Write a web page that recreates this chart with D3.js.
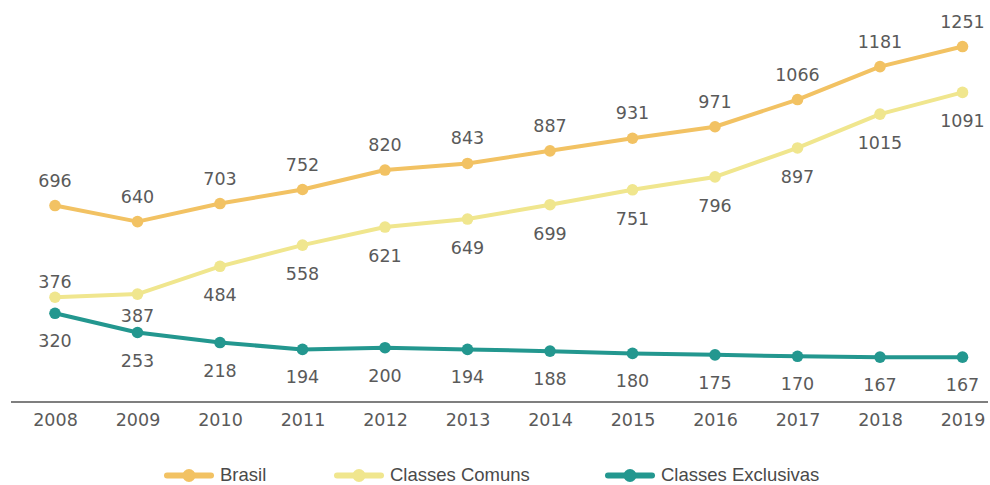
<!DOCTYPE html>
<html><head><meta charset="utf-8">
<script src="https://cdn.jsdelivr.net/npm/d3@7"></script>
<style>
html,body{margin:0;padding:0;background:#fff;}
svg{display:block;}
</style></head>
<body><svg id="chart" width="990" height="485"></svg>
<script>
const years = ["2008","2009","2010","2011","2012","2013","2014","2015","2016","2017","2018","2019"];
const brasil = [696,640,703,752,820,843,887,931,971,1066,1181,1251];
const comuns = [376,387,484,558,621,649,699,751,796,897,1015,1091];
const exclusivas = [320,253,218,194,200,194,188,180,175,170,167,167];
const seriesNames = ["Brasil","Classes Comuns","Classes Exclusivas"];
const seriesColors = ["#F2C263","#F0E68E","#23978F"];

const series = [
  {name: seriesNames[0], values: brasil, color: seriesColors[0]},
  {name: seriesNames[1], values: comuns, color: seriesColors[1]},
  {name: seriesNames[2], values: exclusivas, color: seriesColors[2]}
];

const svg = d3.select("#chart");
const x = d3.scalePoint().domain(years).range([55, 962.5]);
const y = d3.scaleLinear().domain([0, 1300]).range([405, 32.5]);
const numFont = "'DejaVu Sans', sans-serif";
const textColor = "#5a5a5a";

// baseline axis line
svg.append("line")
  .attr("x1", 11).attr("x2", 988)
  .attr("y1", 402).attr("y2", 402)
  .attr("stroke", "#555").attr("stroke-width", 1.3);

const axis = svg.append("g").attr("transform", "translate(0,402)")
  .call(d3.axisBottom(x).tickSize(0).tickPadding(12));
axis.select(".domain").remove();
axis.selectAll("text")
  .attr("font-family", numFont).attr("font-size", 17.5)
  .attr("fill", textColor);

const line = d3.line().x((d,i) => x(years[i])).y(d => y(d));

series.forEach((s, si) => {
  const g = svg.append("g");
  g.append("path").datum(s.values)
    .attr("d", line).attr("fill", "none")
    .attr("stroke", s.color).attr("stroke-width", 4)
    .attr("stroke-linejoin", "round");
  g.selectAll("circle").data(s.values).join("circle")
    .attr("cx", (d,i) => x(years[i])).attr("cy", d => y(d))
    .attr("r", 5.8).attr("fill", s.color);
  g.selectAll("text").data(s.values).join("text")
    .attr("x", (d,i) => x(years[i]))
    .attr("y", (d,i) => {
      const above = si === 0 || (si === 1 && i === 0);
      if (above) return y(d) - (si === 0 ? 19 : 9);
      if (si === 1 && i === 1) return y(d) + 28;
      return y(d) + (si === 1 ? 35 : 34);
    })
    .attr("text-anchor", "middle")
    .attr("font-family", numFont).attr("font-size", 17.5)
    .attr("fill", textColor)
    .text(d => d);
});

// legend
const legendX = [189, 359, 630];
const legend = svg.append("g");
series.forEach((s, i) => {
  const lg = legend.append("g").attr("transform", `translate(${legendX[i]},475.5)`);
  lg.append("line").attr("x1", -22).attr("x2", 22).attr("y1", 0).attr("y2", 0)
    .attr("stroke", s.color).attr("stroke-width", 6).attr("stroke-linecap", "round");
  lg.append("circle").attr("r", 6.5).attr("fill", s.color);
  lg.append("text").attr("x", 31).attr("y", 5.5)
    .attr("font-family", "'Liberation Sans', Arial, sans-serif").attr("font-size", 18.5)
    .attr("fill", "#4a4a4a").text(s.name);
});
</script>
</body></html>
